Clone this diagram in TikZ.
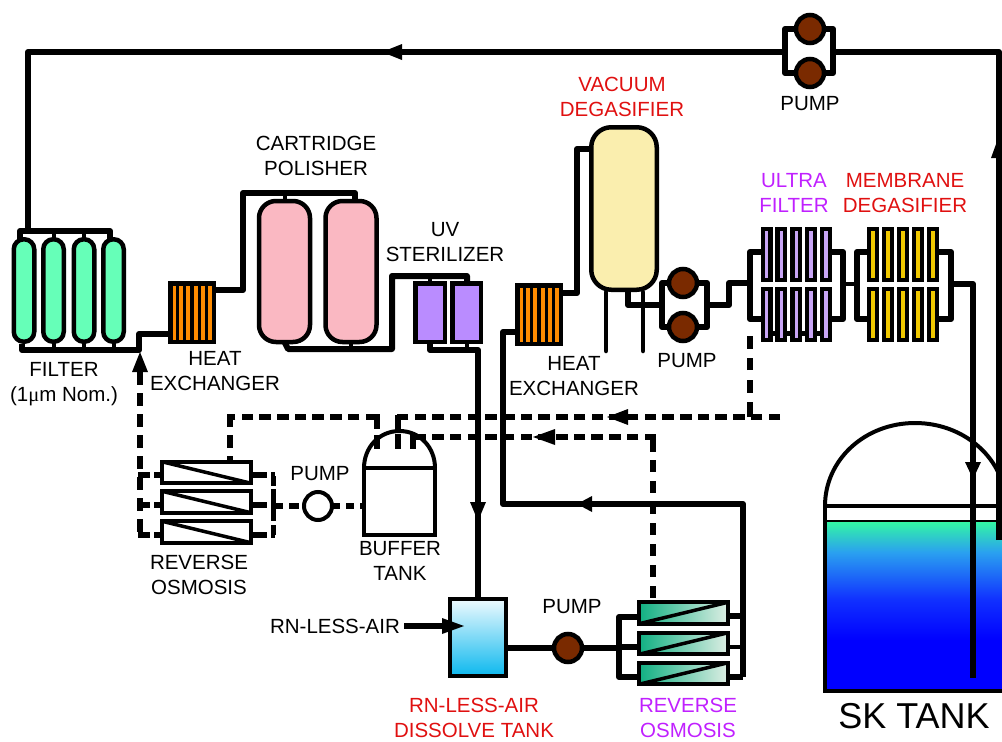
\documentclass[tikz,border=0pt]{standalone}
\usepackage{fontspec}
\setmainfont{Liberation Sans}
\newfontfamily\muserif{Liberation Serif}
\usetikzlibrary{calc}
\definecolor{brownp}{RGB}{122,42,0}
\definecolor{filtergreen}{RGB}{102,255,184}
\definecolor{polpink}{RGB}{250,184,194}
\definecolor{uvpurple}{RGB}{186,140,255}
\definecolor{ufpurple}{RGB}{200,165,245}
\definecolor{mdgold}{RGB}{240,200,0}
\definecolor{vacyellow}{RGB}{250,238,174}
\definecolor{hxorange}{RGB}{255,140,0}
\definecolor{lblred}{RGB}{224,16,16}
\definecolor{lblpurple}{RGB}{192,32,255}
\definecolor{roleft}{RGB}{16,176,130}
\definecolor{roright}{RGB}{222,238,228}
\definecolor{tanktop}{RGB}{238,250,254}
\definecolor{tankbot}{RGB}{12,184,238}
\definecolor{skA}{RGB}{0,0,255}
\definecolor{skB}{RGB}{16,48,255}
\definecolor{skC}{RGB}{42,160,240}
\definecolor{skD}{RGB}{51,245,165}
\pgfdeclareverticalshading{sktank}{100bp}{
 color(0bp)=(skA);
 color(25bp)=(skA);
 color(40bp)=(skA);
 color(52bp)=(skB);
 color(66bp)=(skC);
 color(75bp)=(skD);
 color(100bp)=(skD)}
\tikzset{
 pipe/.style={draw=black,line width=6pt,line join=round},
 thinpipe/.style={draw=black,line width=4pt,line join=round},
 dashh/.style={draw=black,line width=5.5pt,dash pattern=on 11.5pt off 6.2pt},
 dashv/.style={draw=black,line width=6pt,dash pattern=on 13pt off 8pt},
 comp/.style={draw=black,line width=4.5pt,inner sep=0pt,outer sep=0pt},
 capsule/.style={comp,fill=filtergreen,rounded corners=10pt,minimum width=20.5pt,minimum height=102.5pt},
 polisher/.style={comp,fill=polpink,rounded corners=17pt,minimum width=51pt,minimum height=141pt},
 uvbox/.style={comp,fill=uvpurple,minimum height=58.5pt},
 hxbox/.style={comp,fill=hxorange,minimum width=43.5pt,minimum height=58.5pt},
 hxbar/.style={draw=black,line width=3.2pt},
 column/.style={comp,line width=4.2pt,minimum width=7.6pt,minimum height=50.8pt},
 pumpc/.style={comp,circle,fill=brownp,minimum size=28pt},
 robox/.style={comp,line width=4pt,minimum width=89pt,minimum height=21.5pt,fill=white},
 rotint/.style={robox,left color=roleft,right color=roright},
 lbl/.style={inner sep=0pt,align=center,font=\fontsize{20.5}{24.5}\selectfont,text=black},
 redlbl/.style={lbl,text=lblred},
 purplbl/.style={lbl,text=lblpurple},
 tip/.style={fill=black,draw=none}
}
\begin{document}
\begin{tikzpicture}[x=1pt,y=-1pt]
\useasboundingbox (0,0) rectangle (1002,742);
% ---------- SK tank
\path[shading=sktank] (825,522) rectangle (1002,691);
\coordinate (tl) at (825,506);
\coordinate (tr) at (1002,506);
\draw[line width=4pt] (tl) .. controls (825,459.6) and (865,423) .. (915,423) .. controls (965,423) and (1006,459.6) .. (1006,506);
\draw[line width=4pt] (tl) -- (tr);
\draw[line width=2.5pt] (825,521) -- (1002,521);
\draw[line width=4pt] (825,504) -- (825,691) -- (1002,691);
% ---------- coordinates of junctions
\coordinate (retA) at (28,52);
\coordinate (retR) at (999,52);
\coordinate (retEnd) at (999,540);
\coordinate (p1W) at (785,52);
\coordinate (p1E) at (833,52);
\coordinate (mfT1) at (20,231);
\coordinate (mfT2) at (110,231);
\coordinate (mfB1) at (20,350);
\coordinate (mfB2) at (139,350);
\coordinate (hx1in) at (139,334);
% ---------- components
\foreach \n/\x in {1/24,2/53.5,3/84,4/113.5}{
  \node[capsule] (f\n) at (\x,290.5) {};
}
\node[polisher] (pol1) at (284.5,271.5) {};
\node[polisher] (pol2) at (351,271.5) {};
\node[uvbox,minimum width=29.5pt] (uv1) at (430,312.5) {};
\node[uvbox,minimum width=28.5pt] (uv2) at (466.5,312.5) {};
\node[hxbox] (hx1) at (192,312.5) {};
\node[hxbox] (hx2) at (539,314.5) {};
\foreach \x in {177.6,184.8,192,199.2,206.4}{\draw[hxbar] (\x,283) -- (\x,342);}
\foreach \x in {524.6,531.8,539,546.2,553.4}{\draw[hxbar] (\x,285) -- (\x,344);}
\node[comp,fill=vacyellow,rounded corners=20pt,minimum width=65.5pt,minimum height=162.5pt] (vac) at (624,208.5) {};
\node[comp,line width=4pt,fill=white,minimum width=71pt,minimum height=67pt] (buf) at (399.5,501.5) {};
\node[comp,line width=4pt,minimum width=56pt,minimum height=77pt,top color=tanktop,bottom color=tankbot] (dis) at (478,637.5) {};
% ---------- solid pipes
\draw[pipe] (retEnd) -- (retR) -- (p1E);
\draw[pipe] (p1W) -- (retA) -- (28,231);
\draw[pipe] (mfT1 |- f1.north) -- (mfT1) -- (mfT2) -- (mfT2 |- f4.north);
\draw[thinpipe] (f2.north) -- (f2.north |- mfT1);
\draw[thinpipe] (f3.north) -- (f3.north |- mfT1);
\draw[pipe] (22,344) -- (22,350) -- (mfB2) -- (hx1in) -- (hx1in -| hx1.west);
\draw[thinpipe] (f2.south) -- (f2.south |- mfB1);
\draw[thinpipe] (f3.south) -- (f3.south |- mfB1);
\draw[thinpipe] (f4.south) -- (f4.south |- mfB1);
\draw[pipe] (hx1.east |- 0,290) -- (243,290) -- (243,193) -- (355,193) -- (355,199);
\draw[thinpipe] (pol1.north) -- (pol1.north |- 0,193);
\draw[pipe] (pol1.south) -- (288,349) -- (392,349) -- (392,276) -- (467,276) -- (467,281);
\draw[thinpipe] (pol2.south) -- (pol2.south |- 0,349);
\draw[thinpipe] (uv1.north) -- (uv1.north |- 0,276);
\draw[pipe] (uv1.south) -- (430,350) -- (478,350) -- (dis.north -| 478,0);
\draw[thinpipe] (uv2.south) -- (uv2.south |- 0,350);
% return to heat exchanger 2
\draw[pipe] (hx2.west |- 0,332) -- (503,332) -- (503,504) -- (743,504) -- (743,677);
\draw[pipe] (hx2.east |- 0,293) -- (577,293) -- (577,149) -- (vac.west |- 0,149);
% vacuum legs
\draw[line width=4.5pt,line cap=round] (606,292) -- (606,351);
\draw[line width=4.5pt,line cap=round] (643,292) -- (643,351);
\draw[pipe] (628,292) -- (628,305) -- (662,305);
% pump 2 loop
\draw[pipe] (662,283) rectangle (707,327);
\draw[pipe] (707,305) -- (729,305) -- (729,283) -- (750,283);
\node[pumpc] (p2a) at (683,283) {};
\node[pumpc] (p2b) at (683,327) {};
% pump 1 loop
\draw[pipe] (785,29) rectangle (833,73);
\node[pumpc] (p1a) at (810,29) {};
\node[pumpc] (p1b) at (810,73) {};
% ultra filter brackets
\draw[pipe] (764,252) -- (750,252) -- (750,319) -- (764,319);
\draw[pipe] (828,252) -- (843,252) -- (843,319) -- (828,319);
\draw[pipe,line width=4pt] (843,284) -- (857,284);
\draw[pipe] (871,252) -- (857,252) -- (857,319) -- (871,319);
\draw[pipe] (935,252) -- (951,252) -- (951,319) -- (935,319);
\draw[pipe] (951,284) -- (973,284) -- (973,678);
\draw[line width=5pt] (767,333) -- (826,333);
\foreach \n/\x in {1/766.7,2/781.3,3/796.3,4/811,5/826}{
  \node[column,fill=ufpurple] (ufa\n) at (\x,254.5) {};
  \node[column,fill=ufpurple] (ufb\n) at (\x,314.5) {};
}
\foreach \n/\x in {1/873,2/888,3/903,4/918,5/933}{
  \node[column,fill=mdgold] (mda\n) at (\x,254.5) {};
  \node[column,fill=mdgold] (mdb\n) at (\x,314.5) {};
}
% ---------- buffer tank dome
\draw[line width=4pt,fill=white] (buf.north west) .. controls (364,447.6) and (379,431) .. (399.5,431) .. controls (420,431) and (435,447.6) .. (buf.north east);
\draw[line width=4pt] (buf.north west) -- (buf.north east);
% ---------- RO white
\node[robox] (roa) at (206.5,472.5) {};
\node[robox] (rob) at (206.5,502) {};
\node[robox] (roc) at (206.5,532) {};
\foreach \n in {a,b,c}{\draw[line width=3.5pt] (ro\n.north west) -- (ro\n.south east);}
\node[pumpc,line width=4pt,fill=white] (p3) at (318,506) {};
% ---------- dashed
\coordinate (dR) at (780,417);
\coordinate (dC) at (750,417);
\draw[dashh] (dR) -- (395,417);
\draw[dashv,dash pattern=on 15pt off 9.5pt on 13pt off 9.5pt on 12pt off 9.5pt on 13pt off 20pt] (dC) -- (750,335);
\draw[dashv,dash pattern=on 14pt off 5pt on 15pt off 20pt] (398,415) -- (398,449);
\draw[dashh] (656,437) -- (413,437);
\draw[dashv,dash pattern=on 15pt off 20pt] (413,434) -- (413,449);
\draw[dashv,dash pattern=on 18pt off 8pt on 12pt off 9pt on 12pt off 9pt on 12pt off 9pt on 12pt off 9pt on 12pt off 9pt on 12pt off 9pt on 12pt off 9pt] (653,434) -- (653,600);
\draw[dashh] (377,417) -- (227,417);
\draw[dashv,dash pattern=on 15pt off 6pt on 15pt off 20pt] (377,414) -- (377,449);
\draw[dashv] (230,414) -- (roa.north -| 230,0);
\draw[dashv] (140,372) -- (140,535);
\foreach \y in {475,505,535}{
  \draw[dashh,dash pattern=on 12pt off 4pt] (138,\y) -- (160,\y);
  \draw[dashh,dash pattern=on 14pt off 4pt] (253,\y) -- (275,\y);
}
\draw[dashv,line width=5pt,dash pattern=on 10pt off 3pt on 14pt off 4pt on 14pt off 4pt] (273,476) -- (273,537);
\draw[dashh,dash pattern=on 10pt off 6pt] (273,506) -- (p3.west);
\draw[dashh,dash pattern=on 8pt off 6pt] (p3.east) -- (buf.west |- p3.east);
% ---------- dissolve side
\draw[pipe] (dis.east |- 0,648) -- (618,648);
\node[pumpc] (p4) at (568,648) {};
\node[rotint] (rod) at (683.5,613) {};
\node[rotint] (roe) at (683.5,643.5) {};
\node[rotint] (rof) at (683.5,673.5) {};
\foreach \n in {d,e,f}{\draw[line width=3.5pt] (ro\n.south west) -- (ro\n.north east);}
\draw[pipe] (638,617) -- (619,617) -- (619,677) -- (638,677);
\draw[pipe] (619,647) -- (638,647);
\draw[pipe] (730,616) -- (743,616);
\draw[pipe,line width=4pt] (730,647) -- (743,647);
\draw[pipe] (730,677) -- (743,677);
% RN-less-air feed
\coordinate (rnS) at (404,626);
\draw[pipe] (rnS) -- (444,626);
% ---------- arrowheads
\fill[tip] (382,52) -- (402,44) -- (402,60) -- cycle;
\fill[tip] (999,136) -- (991,158) -- (1007,158) -- cycle;
\fill[tip] (140,352) -- (132,372) -- (148,372) -- cycle;
\fill[tip] (973,479) -- (965,462) -- (981,462) -- cycle;
\fill[tip] (478,521) -- (470,502) -- (486,502) -- cycle;
\fill[tip] (607,417) -- (628,409) -- (628,425) -- cycle;
\fill[tip] (533,437) -- (555,429) -- (555,445) -- cycle;
\fill[tip] (577,504) -- (592,496) -- (592,512) -- cycle;
\fill[tip] (464,626) -- (442,618) -- (442,634) -- cycle;
% ---------- labels
\node[lbl] (tp1) at (810,104) {PUMP};
\node[redlbl] (tvac) at (622,97) {VACUUM\\DEGASIFIER};
\node[lbl] (tcp) at (316,156) {CARTRIDGE\\POLISHER};
\node[lbl] (tuv) at (445,242) {UV\\STERILIZER};
\node[purplbl] (tuf) at (794,193) {ULTRA\\FILTER};
\node[redlbl] (tmd) at (905,193) {MEMBRANE\\DEGASIFIER};
\node[lbl] (thx1) at (215,371) {HEAT\\EXCHANGER};
\node[lbl] (thx2) at (574,376) {HEAT\\EXCHANGER};
\node[lbl] (tfl) at (64,384) {FILTER\\(1{\muserif μ}m Nom.)};
\node[lbl] (tp2) at (687,361) {PUMP};
\node[lbl] (tp3) at (320,474) {PUMP};
\node[lbl] (tro1) at (199,575) {REVERSE\\OSMOSIS};
\node[lbl] (tbuf) at (400,561) {BUFFER\\TANK};
\node[lbl] (trn) at (335,626) {RN-LESS-AIR};
\node[lbl] (tp4) at (572,607) {PUMP};
\node[redlbl] (tdis) at (474,718) {RN-LESS-AIR\\DISSOLVE TANK};
\node[purplbl] (tro2) at (688,718) {REVERSE\\OSMOSIS};
\node[lbl,font=\fontsize{36}{36}\selectfont] (tsk) at (914,716) {SK TANK};
\end{tikzpicture}
\end{document}
